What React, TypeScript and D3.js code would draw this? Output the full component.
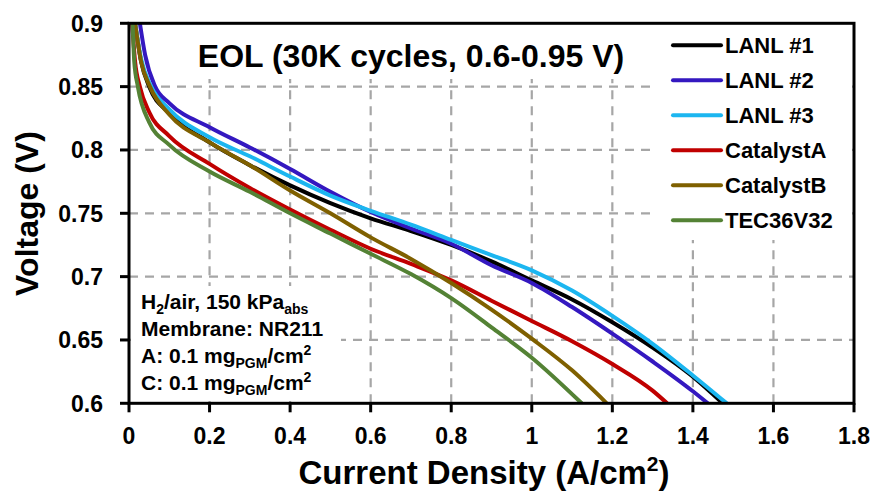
import React from "react";
import * as d3 from "d3";

const X_TICKS = [0, 0.2, 0.4, 0.6, 0.8, 1, 1.2, 1.4, 1.6, 1.8];
const X_TICK_LABELS = ["0", "0.2", "0.4", "0.6", "0.8", "1", "1.2", "1.4", "1.6", "1.8"];
const Y_TICKS = [0.6, 0.65, 0.7, 0.75, 0.8, 0.85, 0.9];
const Y_TICK_LABELS = ["0.6", "0.65", "0.7", "0.75", "0.8", "0.85", "0.9"];

const SERIES_NAMES = ["LANL #1", "LANL #2", "LANL #3", "CatalystA", "CatalystB", "TEC36V32"];
const SERIES_COLORS = ["#000000", "#3418C0", "#1CB6F0", "#C00000", "#7F6000", "#548235"];

// [current density A/cm2, voltage V]
const LANL1: [number, number][] = [
  [0.015, 0.9], [0.03, 0.87], [0.05, 0.85], [0.1, 0.829], [0.2, 0.806], [0.3, 0.788],
  [0.4, 0.772], [0.5, 0.758], [0.6, 0.746], [0.7, 0.736], [0.8, 0.725], [0.9, 0.712],
  [1.0, 0.697], [1.1, 0.682], [1.2, 0.664], [1.3, 0.644], [1.4, 0.621], [1.474, 0.6],
];
const LANL2: [number, number][] = [
  [0.027, 0.9], [0.04, 0.875], [0.065, 0.85], [0.1, 0.837], [0.2, 0.818], [0.3, 0.802],
  [0.4, 0.785], [0.5, 0.767], [0.6, 0.751], [0.7, 0.738], [0.8, 0.726], [0.9, 0.709],
  [1.0, 0.695], [1.1, 0.676], [1.2, 0.655], [1.3, 0.633], [1.4, 0.6095], [1.437, 0.6],
];
const LANL3: [number, number][] = [
  [0.015, 0.9], [0.03, 0.872], [0.055, 0.85], [0.1, 0.832], [0.2, 0.81], [0.3, 0.795],
  [0.4, 0.779], [0.5, 0.764], [0.6, 0.752], [0.7, 0.741], [0.8, 0.729], [0.9, 0.717],
  [1.0, 0.705], [1.1, 0.689], [1.2, 0.669], [1.3, 0.647], [1.4, 0.622], [1.484, 0.6],
];
const CATALYST_A: [number, number][] = [
  [0.008, 0.9], [0.015, 0.87], [0.027, 0.85], [0.05, 0.83], [0.1, 0.811], [0.2, 0.789],
  [0.3, 0.77], [0.4, 0.753], [0.5, 0.737], [0.6, 0.722], [0.7, 0.71], [0.8, 0.697],
  [0.9, 0.681], [1.0, 0.665], [1.1, 0.649], [1.2, 0.631], [1.3, 0.61], [1.336, 0.6],
];
const CATALYST_B: [number, number][] = [
  [0.015, 0.9], [0.03, 0.87], [0.052, 0.85], [0.1, 0.828], [0.2, 0.806], [0.3, 0.788],
  [0.4, 0.768], [0.5, 0.75], [0.6, 0.731], [0.7, 0.714], [0.8, 0.695], [0.9, 0.674],
  [1.0, 0.651], [1.1, 0.626], [1.186, 0.6],
];
const TEC36V32: [number, number][] = [
  [0.009, 0.9], [0.013, 0.87], [0.022, 0.85], [0.05, 0.822], [0.1, 0.804], [0.2, 0.783],
  [0.3, 0.767], [0.4, 0.75], [0.5, 0.734], [0.6, 0.718], [0.7, 0.702], [0.8, 0.683],
  [0.9, 0.66], [1.0, 0.636], [1.124, 0.6],
];
const SERIES_DATA = [LANL1, LANL2, LANL3, CATALYST_A, CATALYST_B, TEC36V32];

const W = 879;
const H = 493;
const FONT = "'Liberation Sans', Arial, Helvetica, sans-serif";

export default function App() {
  const x = d3.scaleLinear().domain([0, 1.8]).range([129, 854]);
  const y = d3.scaleLinear().domain([0.6, 0.9]).range([403.3, 23.3]);
  const line = d3
    .line<[number, number]>()
    .x((d) => x(d[0]))
    .y((d) => y(d[1]))
    .curve(d3.curveMonotoneX);

  const x0 = x(0), x1 = x(1.8), yTop = y(0.9), yBot = y(0.6);
  const gridColor = "#A6A6A6";

  return (
    <svg
      width={W}
      height={H}
      viewBox={`0 0 ${W} ${H}`}
      style={{ position: "absolute", left: 0, top: 0, background: "#fff" }}
      fontFamily={FONT}
      fontWeight="bold"
    >
      <defs>
        <clipPath id="plotClip">
          <rect x={x0} y={yTop} width={x1 - x0} height={yBot - yTop} />
        </clipPath>
      </defs>
      <rect x={0} y={0} width={W} height={H} fill="#fff" />

      {/* gridlines */}
      <g stroke={gridColor} strokeWidth={2.2} strokeDasharray="9,7">
        {Y_TICKS.filter((t) => t > 0.6 && t < 0.9).map((t) => (
          <line key={"gy" + t} x1={x0} x2={x1} y1={y(t)} y2={y(t)} />
        ))}
        {X_TICKS.filter((t) => t > 0 && t < 1.8).map((t) => (
          <line key={"gx" + t} x1={x(t)} x2={x(t)} y1={yBot} y2={yTop} />
        ))}
      </g>

      {/* white text boxes covering gridlines */}
      <rect x={190} y={25} width={446} height={54} fill="#fff" />
      <rect x={652} y={26} width={200} height={214} fill="#fff" />
      <rect x={131} y={286} width={210} height={115} fill="#fff" />

      {/* series */}
      <g clipPath="url(#plotClip)" fill="none" strokeWidth={4} strokeLinejoin="round">
        {SERIES_DATA.map((s, i) => (
          <path key={SERIES_NAMES[i]} d={line(s) || ""} stroke={SERIES_COLORS[i]} />
        ))}
      </g>

      {/* frame */}
      <rect x={x0} y={yTop} width={x1 - x0} height={yBot - yTop} fill="none" stroke="#000" strokeWidth={3} />

      {/* y axis ticks and labels */}
      <g>
        {Y_TICKS.map((t, i) => (
          <g key={"yt" + t}>
            <line x1={x0 - 9} x2={x0} y1={y(t)} y2={y(t)} stroke="#000" strokeWidth={3} />
            <text x={103} y={y(t) + 8.5} textAnchor="end" fontSize={23} fill="#000">
              {Y_TICK_LABELS[i]}
            </text>
          </g>
        ))}
      </g>

      {/* x axis ticks and labels */}
      <g>
        {X_TICKS.map((t, i) => (
          <g key={"xt" + t}>
            <line x1={x(t)} x2={x(t)} y1={yBot} y2={yBot + 9} stroke="#000" strokeWidth={3} />
            <text x={x(t)} y={444} textAnchor="middle" fontSize={23} fill="#000">
              {X_TICK_LABELS[i]}
            </text>
          </g>
        ))}
      </g>

      {/* axis titles */}
      <text x={484} y={484} textAnchor="middle" fontSize={33} fill="#000">
        Current Density (A/cm
        <tspan fontSize={21} dy={-13}>2</tspan>
        <tspan dy={13}>)</tspan>
      </text>
      <text
        transform={`translate(38, 213.5) rotate(-90)`}
        textAnchor="middle"
        fontSize={32}
        fill="#000"
      >
        Voltage (V)
      </text>

      {/* chart title */}
      <text x={411} y={66.5} textAnchor="middle" fontSize={32} fill="#000">
        EOL (30K cycles, 0.6-0.95 V)
      </text>

      {/* legend */}
      <g>
        {SERIES_NAMES.map((n, i) => {
          const by = 53.3 + 35 * i;
          return (
            <g key={"lg" + n}>
              <line x1={673} x2={721} y1={by - 8} y2={by - 8} stroke={SERIES_COLORS[i]} strokeWidth={4} strokeLinecap="round" />
              <text x={725} y={by} fontSize={22} fill="#000">
                {n}
              </text>
            </g>
          );
        })}
      </g>

      {/* annotation */}
      <g fontSize={21} fill="#000">
        <text x={141} y={309}>
          H<tspan fontSize={14} dy={5}>2</tspan>
          <tspan dy={-5}>/air, 150 kPa</tspan>
          <tspan fontSize={14} dy={5}>abs</tspan>
        </text>
        <text x={141} y={336}>Membrane: NR211</text>
        <text x={141} y={363}>
          A: 0.1 mg<tspan fontSize={14} dy={5}>PGM</tspan>
          <tspan dy={-5}>/cm</tspan>
          <tspan fontSize={14} dy={-8}>2</tspan>
        </text>
        <text x={141} y={390}>
          C: 0.1 mg<tspan fontSize={14} dy={5}>PGM</tspan>
          <tspan dy={-5}>/cm</tspan>
          <tspan fontSize={14} dy={-8}>2</tspan>
        </text>
      </g>
    </svg>
  );
}
